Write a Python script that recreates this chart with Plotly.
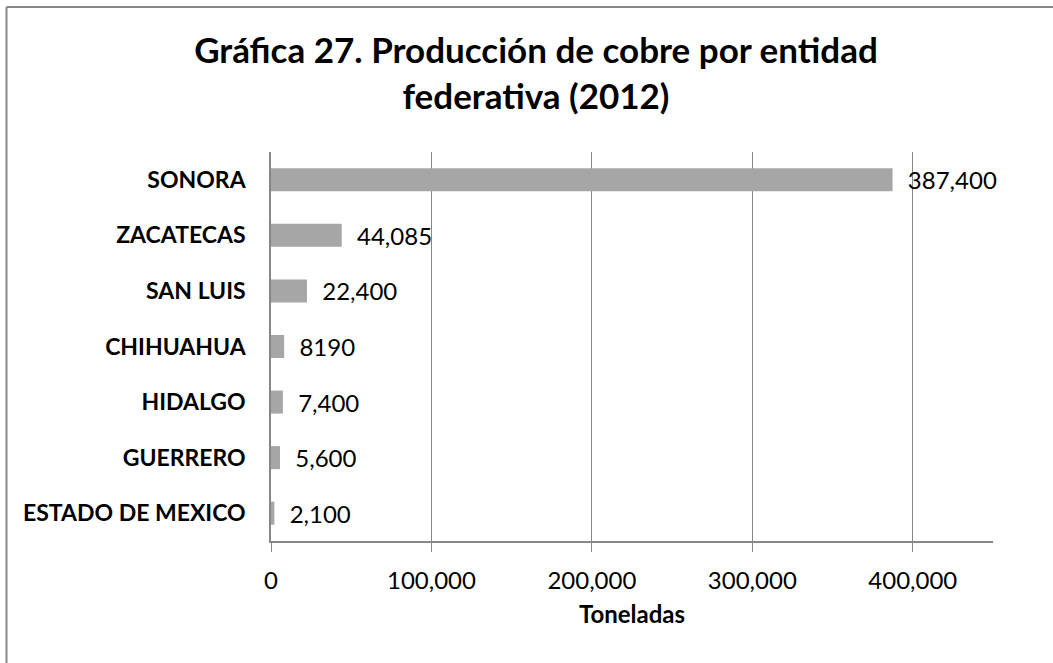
import plotly.graph_objects as go

categories = ["SONORA", "ZACATECAS", "SAN LUIS", "CHIHUAHUA", "HIDALGO", "GUERRERO", "ESTADO DE MEXICO"]
values = [387400, 44085, 22400, 8190, 7400, 5600, 2100]
value_labels = ["387,400", "44,085", "22,400", "8190", "7,400", "5,600", "2,100"]
title_text = "Gráfica 27. Producción de cobre por entidad<br>federativa (2012)"
x_title = "Toneladas"

FONT = "Lato"
GRID = "#878787"
W, H = 1053, 663
L, R, T, B = 271, 60, 152, 122
pw, ph = W - L - R, H - T - B

def px_x(p):
    return (p - L) / pw

def px_y(p):
    return (H - B - p) / ph

fig = go.Figure(
    go.Bar(
        y=categories,
        x=values,
        orientation="h",
        text=value_labels,
        texttemplate="\u00a0\u00a0%{text}",
        textposition="outside",
        constraintext="none",
        cliponaxis=False,
        textfont=dict(family=FONT, size=24, color="#000000"),
        marker=dict(color="#A6A6A6", line=dict(width=0)),
        hoverinfo="skip",
    )
)

fig.update_layout(
    width=W,
    height=H,
    margin=dict(l=L, r=R, t=T, b=B, autoexpand=False),
    paper_bgcolor="white",
    plot_bgcolor="white",
    bargap=0.586,
    showlegend=False,
    hovermode=False,
    title=dict(
        text=title_text,
        font=dict(family=FONT, size=35, color="#000000", weight="bold"),
        x=536 / W,
        xanchor="center",
        xref="container",
        y=1 - 63 / H,
        yref="container",
        yanchor="middle",
    ),
    separators=".,",
    shapes=[
        dict(type="line", xref="paper", yref="paper",
             x0=px_x(6.5), x1=px_x(6.5), y0=px_y(7), y1=px_y(700),
             line=dict(color=GRID, width=2)),
        dict(type="line", xref="paper", yref="paper",
             x0=px_x(6.5), x1=px_x(1070), y0=px_y(7), y1=px_y(7),
             line=dict(color=GRID, width=2)),
    ],
)

fig.update_xaxes(
    range=[0, 450000],
    dtick=100000,
    tick0=0,
    tickformat=",",
    showgrid=True,
    gridcolor=GRID,
    gridwidth=1.3,
    showline=True,
    linecolor=GRID,
    linewidth=1.5,
    ticks="outside",
    ticklen=9,
    tickcolor=GRID,
    tickwidth=1.3,
    ticklabelstandoff=8,
    zeroline=False,
    tickfont=dict(family=FONT, size=24, color="#000000"),
    title=dict(text=x_title, font=dict(family=FONT, size=24, color="#000000", weight="bold"), standoff=14),
)

fig.update_yaxes(
    autorange="reversed",
    showline=True,
    linecolor=GRID,
    linewidth=1.5,
    ticks="",
    ticklabelstandoff=19,
    showgrid=False,
    tickfont=dict(family=FONT, size=23, color="#000000", weight="bold"),
)

fig.write_html(
    "out.html",
    config={"displayModeBar": False},
    post_script="document.body.style.margin='0px';",
)
